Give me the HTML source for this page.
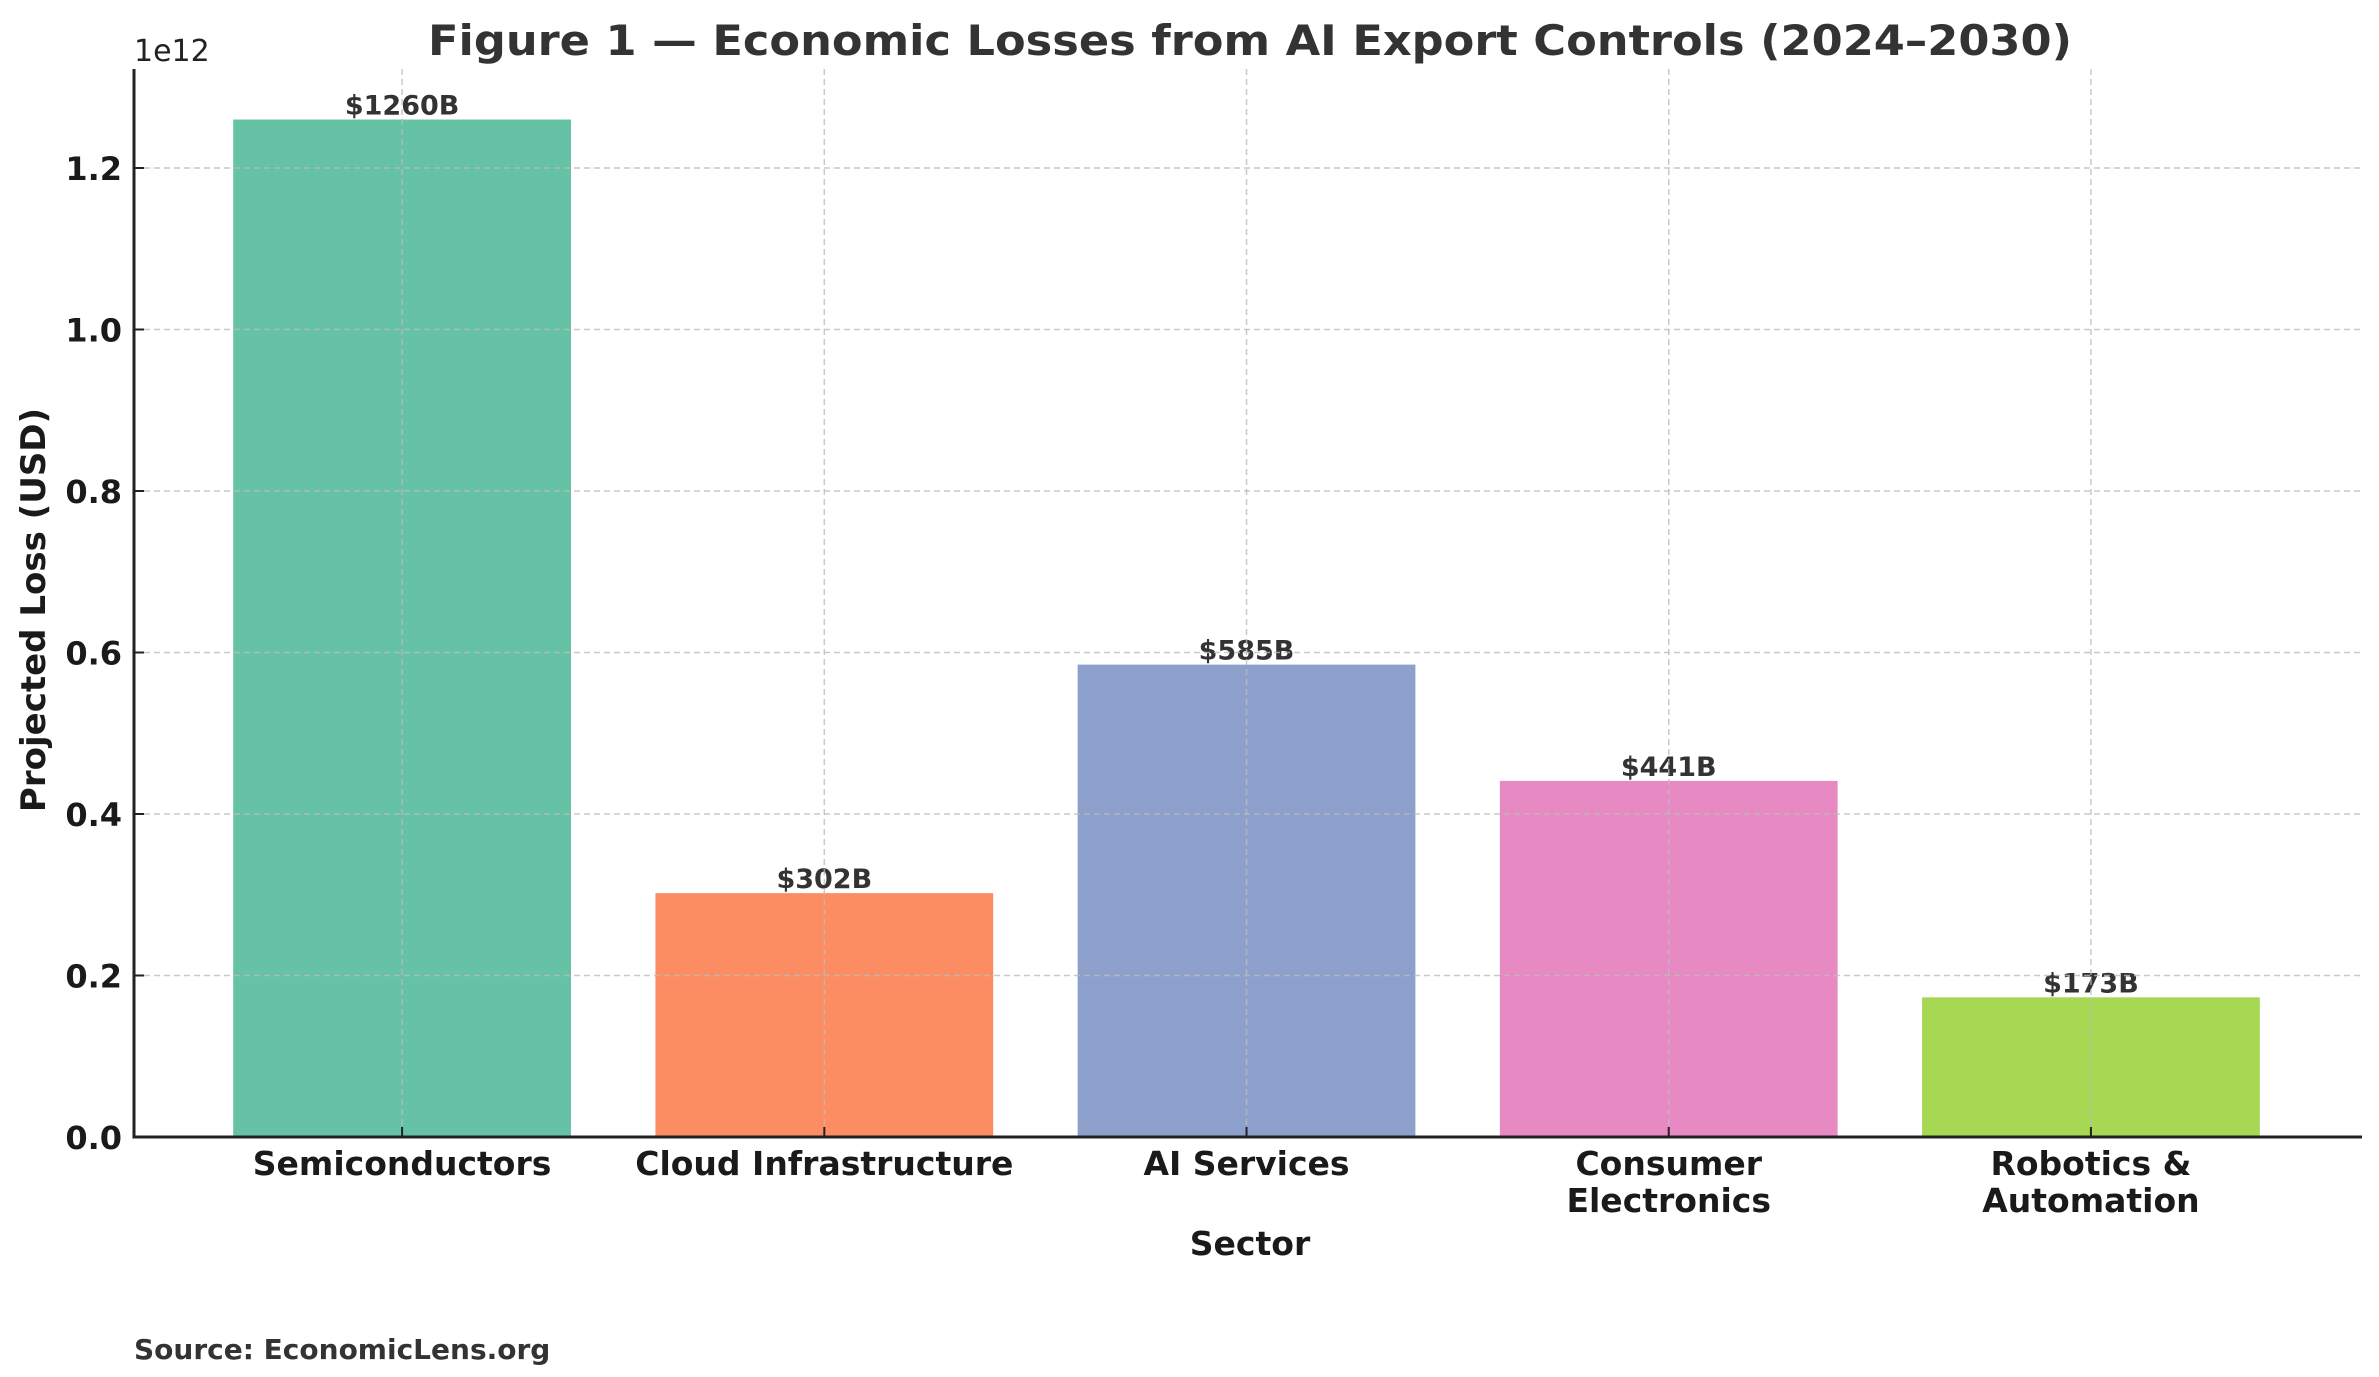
<!DOCTYPE html>
<html><head><meta charset="utf-8"><style>
html,body{margin:0;padding:0;background:#fff;}
svg{display:block;font-family:"DejaVu Sans","Liberation Sans",sans-serif;}
</style></head><body>
<svg id="chart" width="2379" height="1377" viewBox="0 0 2379 1377">
<text x="1250" y="55" text-anchor="middle" font-size="42" font-weight="bold" fill="#333" textLength="1644" lengthAdjust="spacingAndGlyphs">Figure 1 — Economic Losses from AI Export Controls (2024–2030)</text>
<text x="134" y="61" font-size="30" fill="#222">1e12</text>
<g id="grid"></g>
<g id="bars"></g>
<g id="gridtop"></g>
<g id="axes"></g>
<text x="1250" y="1255" text-anchor="middle" font-size="33" font-weight="bold" fill="#1a1a1a">Sector</text>
<text transform="translate(45,610) rotate(-90)" text-anchor="middle" font-size="34" font-weight="bold" fill="#1a1a1a">Projected Loss (USD)</text>
<text x="134" y="1359" font-size="28" font-weight="bold" fill="#333">Source: EconomicLens.org</text>
</svg>
<script>
const categories = [["Semiconductors"],["Cloud Infrastructure"],["AI Services"],["Consumer","Electronics"],["Robotics &","Automation"]];
const values = [1260e9, 302e9, 585e9, 441e9, 173e9];
const valueLabels = ["$1260B","$302B","$585B","$441B","$173B"];
const colors = ["#66c2a5","#fc8d62","#8da0cb","#e78ac3","#a6d854"];
const yTicks = [0,0.2e12,0.4e12,0.6e12,0.8e12,1.0e12,1.2e12];
const yTickLabels = ["0.0","0.2","0.4","0.6","0.8","1.0","1.2"];

const NS="http://www.w3.org/2000/svg";
const L=134,R=2362,T=69,B=1137;
const xmin=-0.635,xmax=4.642,ymax=1.3226e12;
const xs=i=>L+(i-xmin)/(xmax-xmin)*(R-L);
const ys=v=>B-v/ymax*(B-T);
const bw=0.8*(R-L)/(xmax-xmin);
function mk(tag,attrs,parent,text){const e=document.createElementNS(NS,tag);for(const k in attrs)e.setAttribute(k,attrs[k]);if(text!==undefined)e.textContent=text;parent.appendChild(e);return e;}
const bars=document.getElementById('bars'),gt=document.getElementById('gridtop'),ax=document.getElementById('axes');
values.forEach((v,i)=>{
  const r=mk('rect',{x:xs(i)-bw/2,y:ys(v),width:bw,height:B-ys(v),fill:colors[i]},bars);
  
  
  const t=mk('text',{x:xs(i),y:ys(v)-5,'text-anchor':'middle','font-size':27,'font-weight':'bold',fill:'#333'},bars,valueLabels[i]);
  
  
  const g=mk('line',{x1:xs(i),x2:xs(i),y1:T,y2:B,stroke:'#bbb','stroke-width':1.5,'stroke-dasharray':'6,4','stroke-opacity':0.8},gt);
  
  
  const tk=mk('line',{x1:xs(i),x2:xs(i),y1:B,y2:B-10,stroke:'#222','stroke-width':2},ax);
  
  
  categories[i].forEach((line,j)=>{
    const tl=mk('text',{x:xs(i),y:1175+j*37,'text-anchor':'middle','font-size':33,'font-weight':'bold',fill:'#1a1a1a'},ax,line);
    
    
  });
});
yTicks.forEach((v,i)=>{
  const y=ys(v);
  if(v>0){const g=mk('line',{x1:L,x2:R,y1:y,y2:y,stroke:'#bbb','stroke-width':1.5,'stroke-dasharray':'6,4','stroke-opacity':0.8},gt);
  
  }
  const tk=mk('line',{x1:L,x2:L+10,y1:y,y2:y,stroke:'#222','stroke-width':2},ax);
  
  
  const t=mk('text',{x:L-12,y:y+12,'text-anchor':'end','font-size':32,'font-weight':'bold',fill:'#1a1a1a'},ax,yTickLabels[i]);
  
  
});
const a1=mk('line',{x1:L,x2:L,y1:T,y2:B+1.5,stroke:'#222','stroke-width':3},ax);


const a2=mk('line',{x1:L-1.5,x2:R,y1:B,y2:B,stroke:'#222','stroke-width':3},ax);


</script>
</body></html>
